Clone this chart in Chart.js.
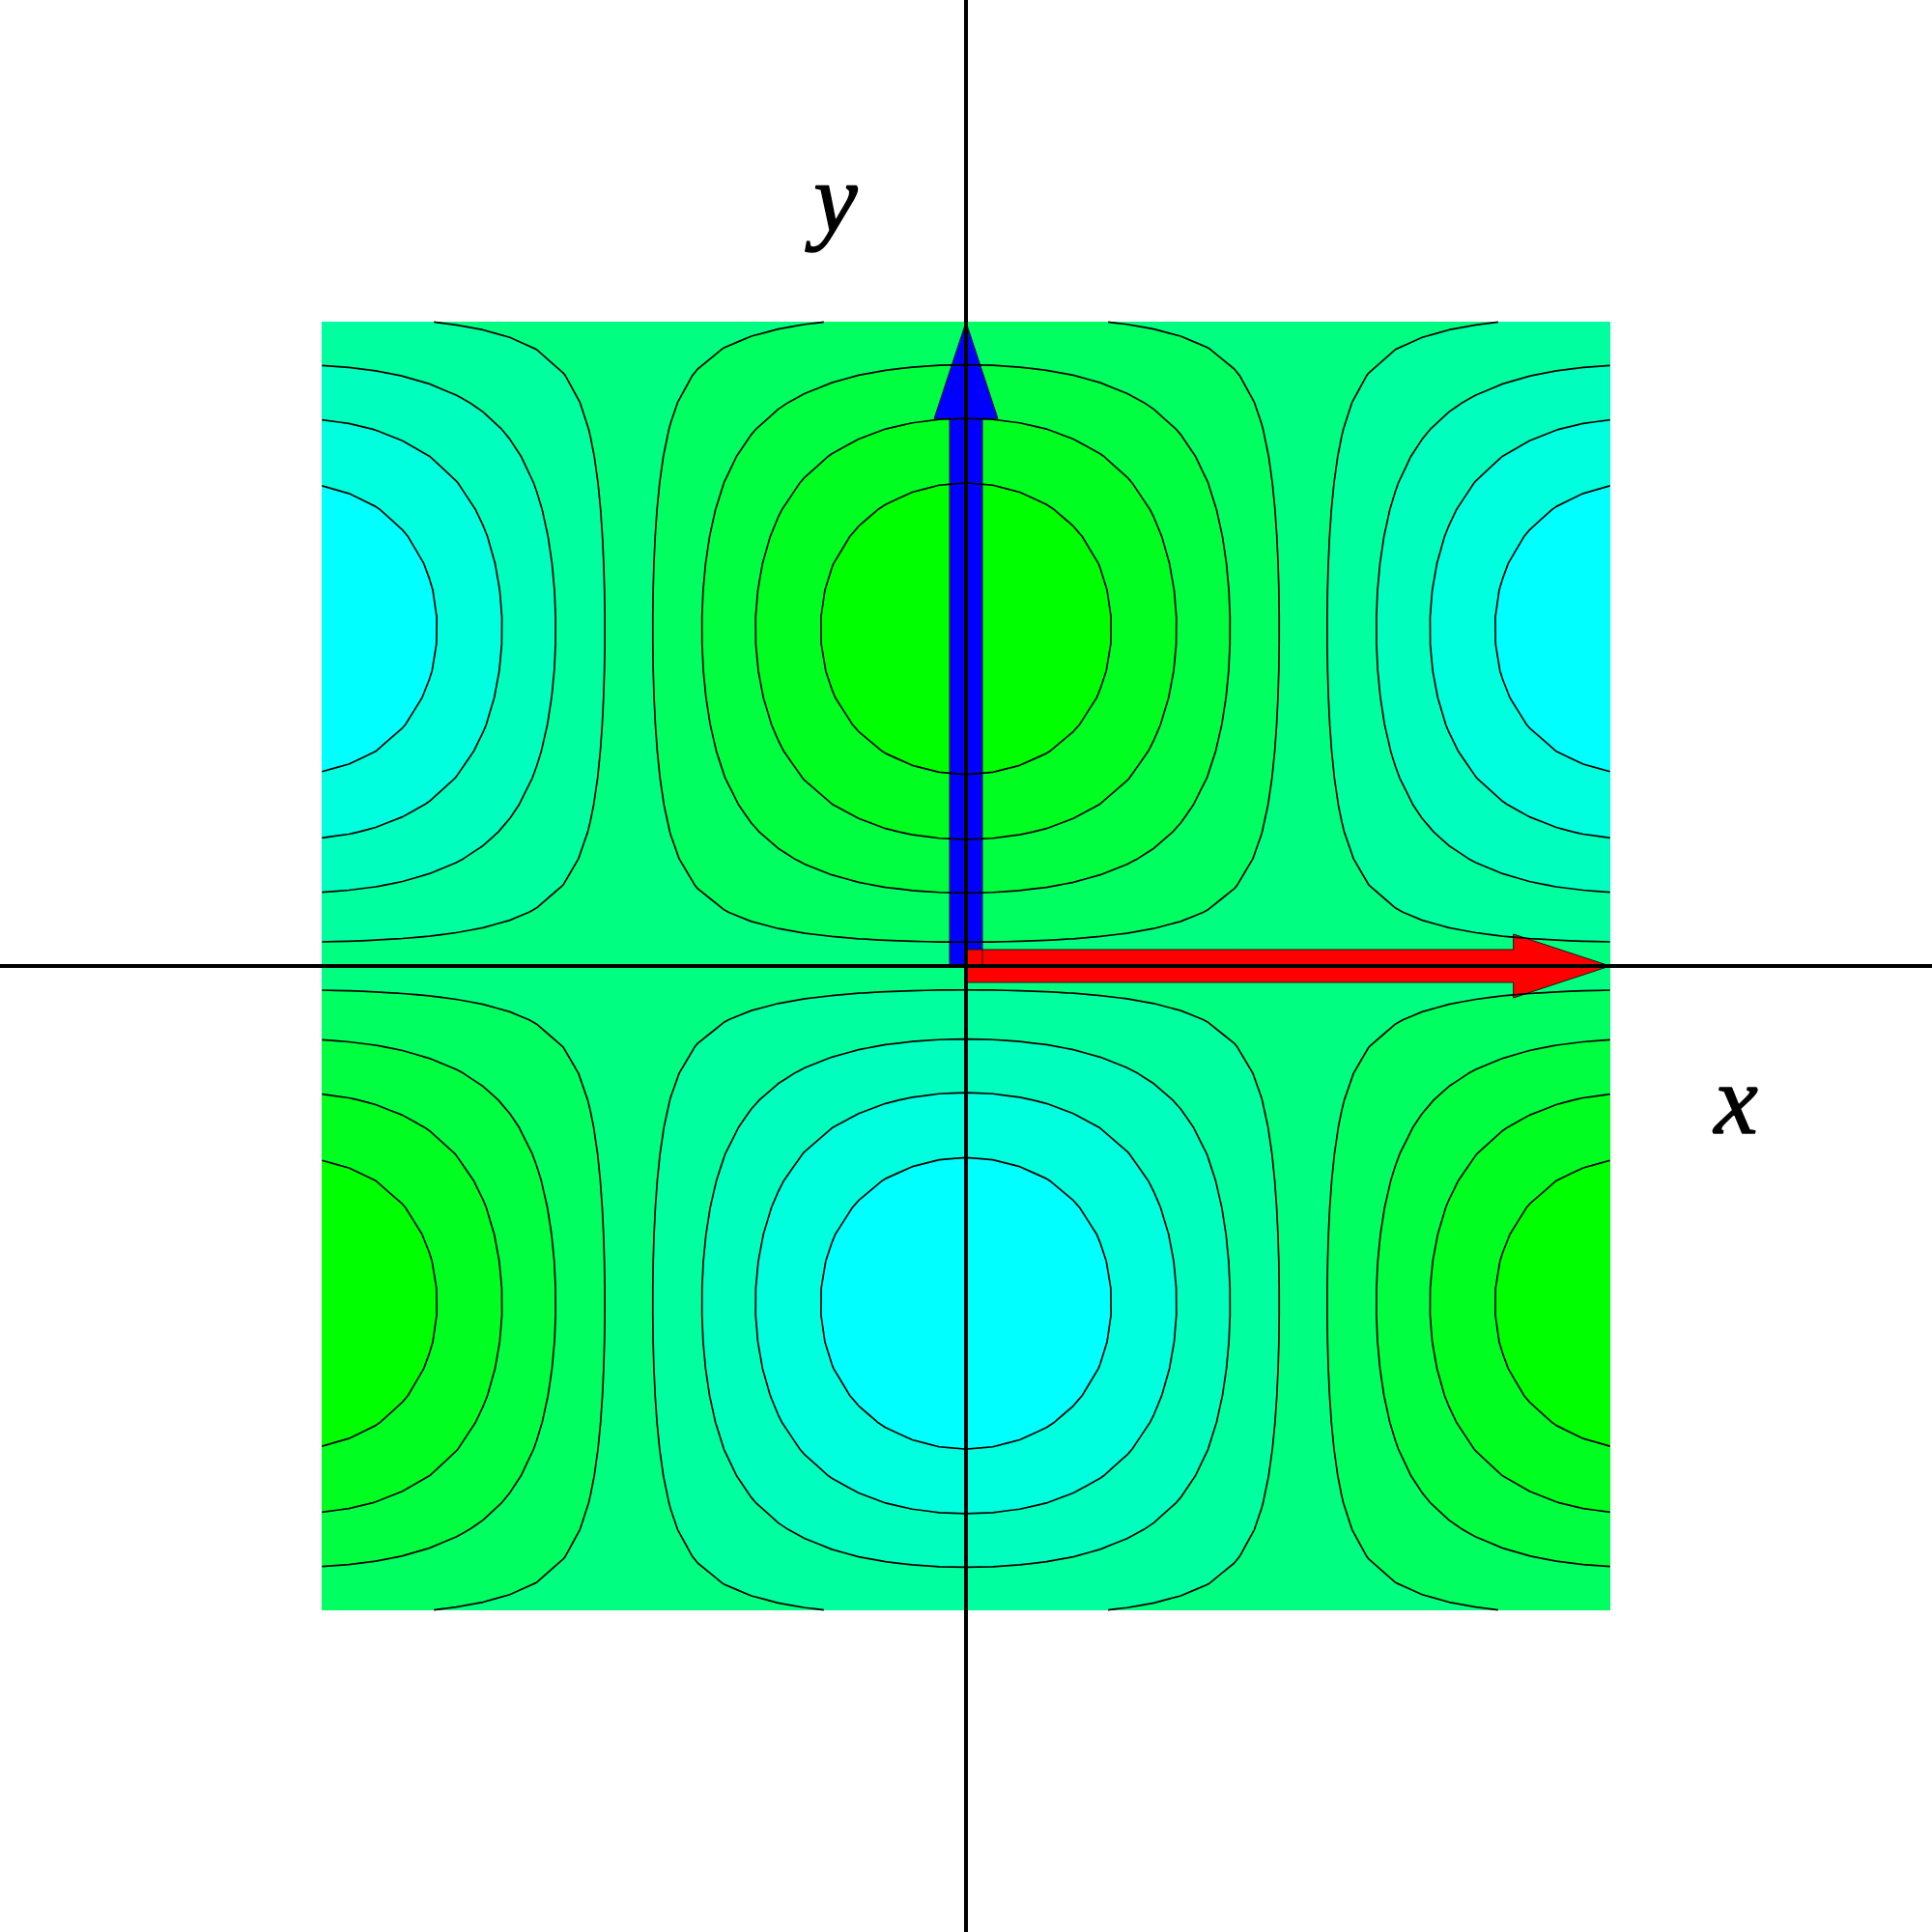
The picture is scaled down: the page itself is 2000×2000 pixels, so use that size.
<!DOCTYPE html>
<html>
<head>
<meta charset="utf-8">
<title>cos(x)·sin(y)</title>
<script src="https://cdn.jsdelivr.net/npm/chart.js@4.4.1/dist/chart.umd.min.js"></script>
<style>
  html, body { margin: 0; padding: 0; background: #fff; }
  #quadro { width: 2000px; height: 2000px; }
</style>
</head>
<body>
<div id="quadro"><canvas id="grafico"></canvas></div>
<script>
/* ============================================================
   Mapa de contorno de f(x, y) = cos(x)·sin(y) em [-3, 3]²,
   com os vetores unitários dos eixos e os eixos cartesianos.
   ============================================================ */

/* Domínio do campo e malha de amostragem */
const FAIXA_X = [-3, 3];
const FAIXA_Y = [-3, 3];
const PASSOS_MALHA = 48;

/* Níveis de contorno (8 linhas, 9 faixas) e cores das faixas, da menor à maior */
const NIVEIS = [-7 / 9, -5 / 9, -3 / 9, -1 / 9, 1 / 9, 3 / 9, 5 / 9, 7 / 9];
const CORES_FAIXAS = ['#00ffff', '#00ffdf', '#00ffbf', '#00ff9f', '#00ff80', '#00ff60', '#00ff40', '#00ff20', '#00ff00'];

/* Janela visível (os eixos atravessam a figura inteira) */
const JANELA = [-4.5, 4.5];

/* Vetores desenhados a partir da origem */
const VETORES_DX = [0, 3];
const VETORES_DY = [3, 0];
const VETORES_COR = ['#0000ff', '#ff0000'];

/* Rótulos dos eixos */
const ROTULOS = ['x', 'y'];

/* Estilo (fora dos dados) */
const ESTILO = {
  linhaContorno: 1.7,
  linhaEixo: 4,
  hasteMeia: 17,
  pontaMeia: 33,
  pontaComp: 100,
  familia: '"Liberation Serif", "Times New Roman", Times, serif',
  tamanho: 102,
  posRotulos: [[3.5875, -0.7785], [-0.6075, 3.4245]]
};
const FONTE = `italic ${ESTILO.tamanho}px ${ESTILO.familia}`;

function campo(x, y) { return Math.cos(x) * Math.sin(y); }

/* Amostra o campo na malha */
const N = PASSOS_MALHA;
const hx = (FAIXA_X[1] - FAIXA_X[0]) / N;
const hy = (FAIXA_Y[1] - FAIXA_Y[0]) / N;
const valores = [];
for (let j = 0; j <= N; j++) {
  const linha = [];
  for (let i = 0; i <= N; i++) linha.push(campo(FAIXA_X[0] + i * hx, FAIXA_Y[0] + j * hy));
  valores.push(linha);
}

/* Marching squares: devolve as polilinhas de um nível */
function contornos(L) {
  const segs = [], pts = {}, adj = {};
  const acima = (i, j) => valores[j][i] > L;
  function ponto(key, i0, j0, i1, j1) {
    if (!(key in pts)) {
      const a = valores[j0][i0], b = valores[j1][i1];
      const t = (L - a) / (b - a);
      pts[key] = { x: FAIXA_X[0] + (i0 + t * (i1 - i0)) * hx, y: FAIXA_Y[0] + (j0 + t * (j1 - j0)) * hy };
    }
    return key;
  }
  function seg(a, b) {
    const k = segs.length;
    segs.push([a, b]);
    (adj[a] = adj[a] || []).push(k);
    (adj[b] = adj[b] || []).push(k);
  }
  for (let j = 0; j < N; j++) {
    for (let i = 0; i < N; i++) {
      const a00 = acima(i, j), a10 = acima(i + 1, j), a11 = acima(i + 1, j + 1), a01 = acima(i, j + 1);
      const baixo = a00 !== a10 ? ponto(`h${i},${j}`, i, j, i + 1, j) : null;
      const dir = a10 !== a11 ? ponto(`v${i + 1},${j}`, i + 1, j, i + 1, j + 1) : null;
      const topo = a01 !== a11 ? ponto(`h${i},${j + 1}`, i, j + 1, i + 1, j + 1) : null;
      const esq = a00 !== a01 ? ponto(`v${i},${j}`, i, j, i, j + 1) : null;
      const cruz = [baixo, dir, topo, esq].filter(k => k !== null);
      if (cruz.length === 2) {
        seg(cruz[0], cruz[1]);
      } else if (cruz.length === 4) {
        const centro = (valores[j][i] + valores[j][i + 1] + valores[j + 1][i] + valores[j + 1][i + 1]) / 4;
        if (a00 === (centro > L)) { seg(baixo, dir); seg(topo, esq); }
        else { seg(baixo, esq); seg(dir, topo); }
      }
    }
  }
  // encadeia os segmentos em polilinhas
  const usado = new Array(segs.length).fill(false);
  const linhas = [];
  function caminhar(k) {
    const chaves = [k];
    while (true) {
      const s = (adj[k] || []).find(idx => !usado[idx]);
      if (s === undefined) break;
      usado[s] = true;
      const [a, b] = segs[s];
      k = a === k ? b : a;
      chaves.push(k);
    }
    return chaves.map(c => pts[c]);
  }
  Object.keys(adj).forEach(k => { if (adj[k].length === 1 && !usado[adj[k][0]]) linhas.push(caminhar(k)); });
  Object.keys(adj).forEach(k => { if (adj[k].some(idx => !usado[idx])) linhas.push(caminhar(k)); });
  return linhas;
}

/* Interpolação bilinear na malha (mesma base das linhas) */
function valorMalha(x, y) {
  const fx = (x - FAIXA_X[0]) / hx, fy = (y - FAIXA_Y[0]) / hy;
  const i = Math.min(Math.max(Math.floor(fx), 0), N - 1);
  const j = Math.min(Math.max(Math.floor(fy), 0), N - 1);
  const tx = fx - i, ty = fy - j;
  const v0 = valores[j][i] * (1 - tx) + valores[j][i + 1] * tx;
  const v1 = valores[j + 1][i] * (1 - tx) + valores[j + 1][i + 1] * tx;
  return v0 * (1 - ty) + v1 * ty;
}

const rgbFaixas = CORES_FAIXAS.map(c => [1, 3, 5].map(p => parseInt(c.substr(p, 2), 16)));

/* Faixas coloridas + vetores, abaixo das linhas */
const pluginFundo = {
  id: 'fundo',
  beforeDatasetsDraw(chart) {
    const { ctx, scales: { x: sx, y: sy } } = chart;
    const px0 = Math.round(sx.getPixelForValue(FAIXA_X[0])), px1 = Math.round(sx.getPixelForValue(FAIXA_X[1]));
    const py0 = Math.round(sy.getPixelForValue(FAIXA_Y[1])), py1 = Math.round(sy.getPixelForValue(FAIXA_Y[0]));
    const w = px1 - px0, h = py1 - py0;
    const off = document.createElement('canvas');
    off.width = w; off.height = h;
    const octx = off.getContext('2d');
    const img = octx.createImageData(w, h);
    for (let r = 0; r < h; r++) {
      const y = sy.getValueForPixel(py0 + r + 0.5);
      for (let c = 0; c < w; c++) {
        const x = sx.getValueForPixel(px0 + c + 0.5);
        const v = valorMalha(x, y);
        let b = 0;
        while (b < NIVEIS.length && v > NIVEIS[b]) b++;
        const cor = rgbFaixas[b], o = (r * w + c) * 4;
        img.data[o] = cor[0]; img.data[o + 1] = cor[1]; img.data[o + 2] = cor[2]; img.data[o + 3] = 255;
      }
    }
    octx.putImageData(img, 0, 0);
    ctx.save();
    ctx.drawImage(off, px0, py0);

    // vetores: preenchimento primeiro, contorno fino depois
    const ox = sx.getPixelForValue(0), oy = sy.getPixelForValue(0);
    const formas = VETORES_DX.map((dx, k) => {
      const tx = sx.getPixelForValue(dx), ty = sy.getPixelForValue(VETORES_DY[k]);
      const comp = Math.hypot(tx - ox, ty - oy);
      const ux = (tx - ox) / comp, uy = (ty - oy) / comp, nx = -uy, ny = ux;
      const bx = tx - ux * ESTILO.pontaComp, by = ty - uy * ESTILO.pontaComp;
      const hs = ESTILO.hasteMeia, hp = ESTILO.pontaMeia;
      return [
        [ox + nx * hs, oy + ny * hs], [bx + nx * hs, by + ny * hs], [bx + nx * hp, by + ny * hp],
        [tx, ty],
        [bx - nx * hp, by - ny * hp], [bx - nx * hs, by - ny * hs], [ox - nx * hs, oy - ny * hs]
      ];
    });
    const tracar = f => { ctx.beginPath(); f.forEach(([x, y], i) => i ? ctx.lineTo(x, y) : ctx.moveTo(x, y)); ctx.closePath(); };
    formas.forEach((f, k) => { tracar(f); ctx.fillStyle = VETORES_COR[k]; ctx.fill(); });
    formas.forEach(f => { tracar(f); ctx.lineWidth = 1; ctx.strokeStyle = '#1a1a1a'; ctx.stroke(); });
    ctx.restore();
  }
};

/* Rótulos x e y em itálico (traço leve para engrossar o glifo) */
const pluginRotulos = {
  id: 'rotulos',
  afterDatasetsDraw(chart) {
    const { ctx, scales: { x: sx, y: sy } } = chart;
    ctx.save();
    ctx.font = FONTE;
    ctx.fillStyle = '#000';
    ctx.strokeStyle = '#000';
    ctx.lineWidth = 1.4;
    ctx.lineJoin = 'round';
    ctx.textAlign = 'center';
    ctx.textBaseline = 'alphabetic';
    ROTULOS.forEach((t, k) => {
      const [x, y] = ESTILO.posRotulos[k];
      const px = sx.getPixelForValue(x), py = sy.getPixelForValue(y);
      ctx.fillText(t, px, py);
      ctx.strokeText(t, px, py);
    });
    ctx.restore();
  }
};

/* Datasets: linhas de contorno e eixos.
   tension mínima evita o "fast path" do Chart.js, que junta pontos
   com o mesmo x em pixel e entorta as linhas quase verticais */
const datasets = [];
datasets.push({ data: [{ x: JANELA[0], y: 0 }, { x: JANELA[1], y: 0 }], borderColor: '#000', borderWidth: ESTILO.linhaEixo, order: 0 });
datasets.push({ data: [{ x: 0, y: JANELA[0] }, { x: 0, y: JANELA[1] }], borderColor: '#000', borderWidth: ESTILO.linhaEixo, order: 0 });
NIVEIS.forEach(L => {
  contornos(L).forEach(pts => {
    datasets.push({ data: pts, borderColor: '#000', borderWidth: ESTILO.linhaContorno, borderJoinStyle: 'round', order: 1 });
  });
});
datasets.forEach(d => Object.assign(d, { showLine: true, pointRadius: 0, fill: false, tension: 0.0001, borderCapStyle: 'butt' }));

const grafico = new Chart(document.getElementById('grafico'), {
  type: 'scatter',
  data: { datasets },
  options: {
    responsive: true,
    maintainAspectRatio: false,
    animation: false,
    events: [],
    layout: { padding: 0 },
    scales: {
      x: { type: 'linear', min: JANELA[0], max: JANELA[1], display: false },
      y: { type: 'linear', min: JANELA[0], max: JANELA[1], display: false }
    },
    plugins: { legend: { display: false }, tooltip: { enabled: false } }
  },
  plugins: [pluginFundo, pluginRotulos]
});

// garante a fonte serifada itálica antes do desenho final
if (document.fonts && document.fonts.load) {
  document.fonts.load(FONTE, 'xy').then(() => grafico.draw()).catch(() => {});
}
</script>
</body>
</html>
